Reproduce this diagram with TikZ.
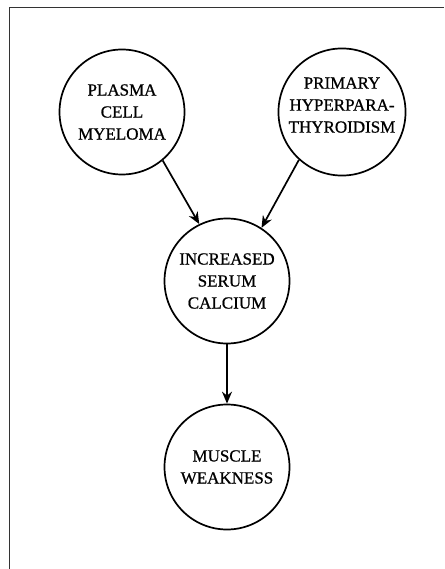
\documentclass[tikz,border=0pt]{standalone}
\usepackage{fontspec}
\setmainfont{Liberation Serif}[FakeBold=0.8]
\usetikzlibrary{arrows.meta}
\begin{document}
\begin{tikzpicture}[x=1pt,y=-1pt,
  circ/.style={draw,circle,line width=1.7pt,minimum size=125pt,inner sep=0pt,align=center,
    font=\fontsize{17}{22}\selectfont},
  arr/.style={line width=1.7pt,-{Stealth[length=12pt,width=10pt]}},
  frame/.style={line width=1pt,draw=black!80}]
\useasboundingbox (0,0) rectangle (444,569);
\coordinate (ftl) at (9,8);
\coordinate (ftr) at (444,8);
\coordinate (fbl) at (9,569);
\draw[frame] (ftr) -- (ftl) -- (fbl);
\node[circ] (pcm) at (122,112) {PLASMA\\CELL\\MYELOMA};
\node[circ] (php) at (342,112) {PRIMARY\\HYPERPARA-\\THYROIDISM\\[-8pt]\mbox{}};
\node[circ] (isc) at (227,281) {INCREASED\\SERUM\\CALCIUM};
\node[circ] (mw) at (227,467) {MUSCLE\\WEAKNESS};
\draw[arr] (pcm.-50) -- (isc.116);
\draw[arr] (php.-132) -- (isc.57);
\draw[arr] (isc.south) -- (mw.north);
\end{tikzpicture}
\end{document}
